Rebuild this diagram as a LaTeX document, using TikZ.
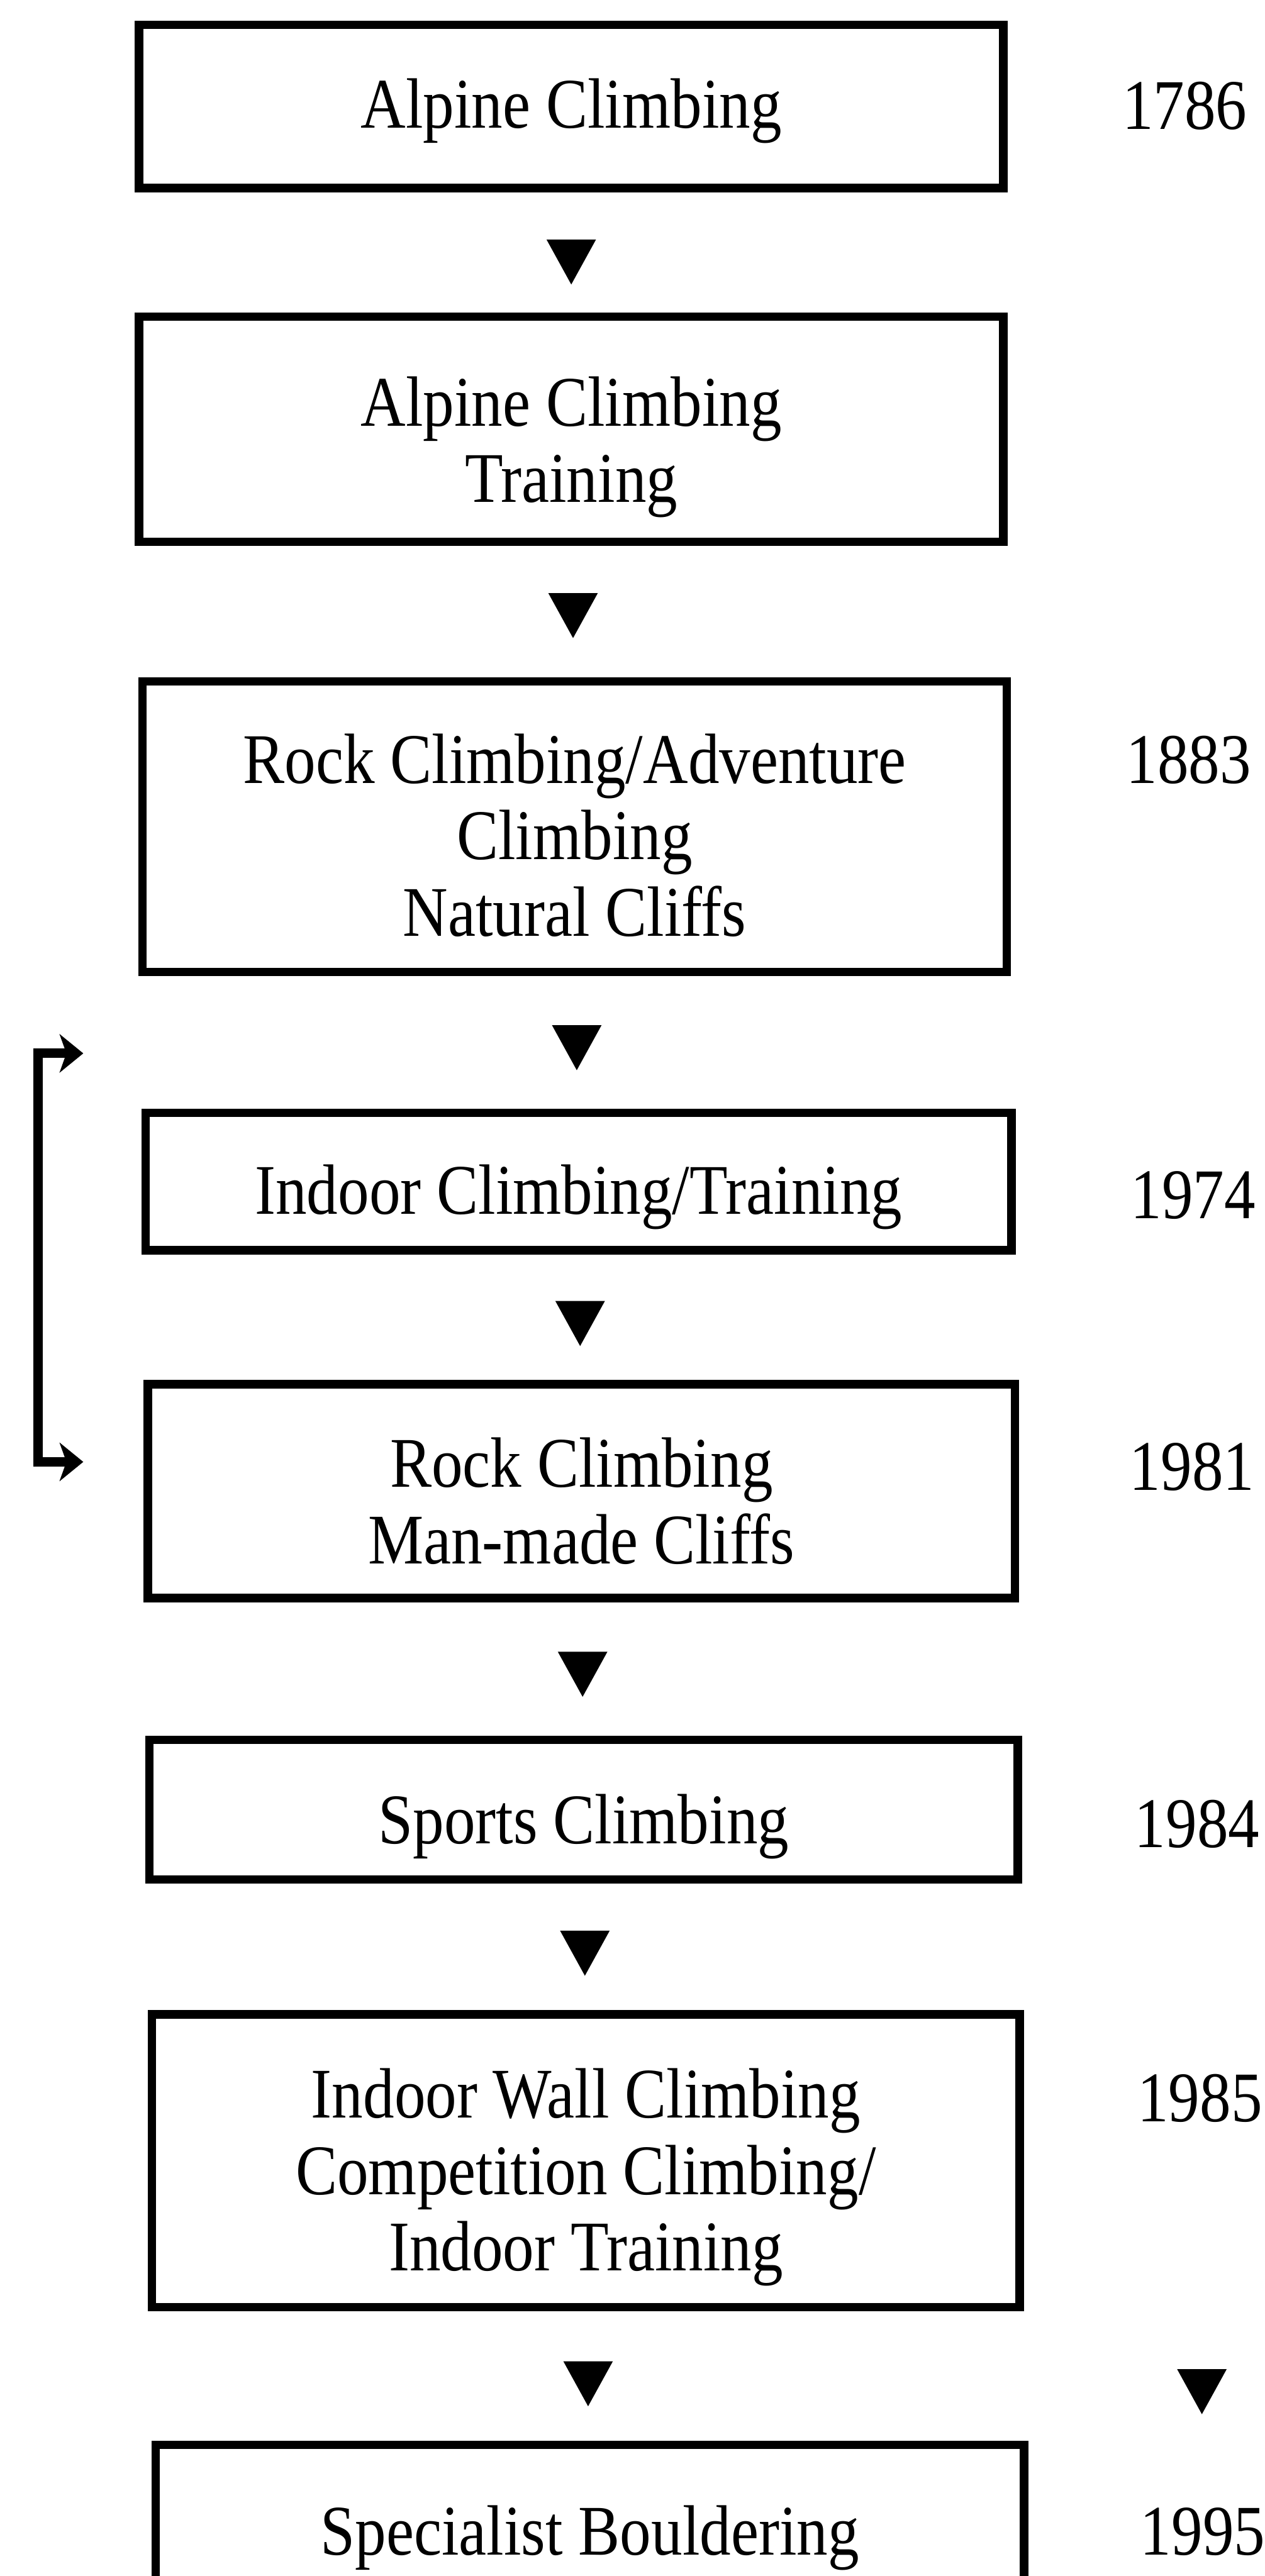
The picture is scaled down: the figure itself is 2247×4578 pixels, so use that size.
\documentclass[tikz,border=0pt]{standalone}
\usepackage{fontspec}
\setmainfont{Liberation Serif}[FakeStretch=0.875]
\usetikzlibrary{arrows.meta}
\setlength{\tabcolsep}{0pt}
\newcommand{\boxlines}[1]{\begin{tabular}[t]{c}#1\end{tabular}}
\begin{document}
\begin{tikzpicture}[x=0.01cm,y=-0.01cm,
  box/.style={draw, line width=4.3pt, inner sep=0pt},
  txt/.style={anchor=base, inner sep=0pt, font=\fontsize{36}{38.6}\selectfont},
  year/.style={anchor=base, inner sep=0pt, font=\fontsize{36}{38.6}\selectfont},
  link/.style={line width=4.8pt, line join=miter,
    -{Stealth[length=0.42cm,width=0.68cm,inset=0.12cm]}},
  downtri/.pic={\fill (-44,-40) -- (44,-40) -- (0,40) -- cycle;}
]
\path[use as bounding box, clip] (0,0) rectangle (2247,4578);

\node[box, minimum width=15.35cm, minimum height=2.90cm] (b1) at (1015,189) {};
\node[box, minimum width=15.35cm, minimum height=4.00cm] (b2) at (1015,763) {};
\node[box, minimum width=15.35cm, minimum height=5.16cm] (b3) at (1021,1469) {};
\node[box, minimum width=15.38cm, minimum height=2.44cm] (b4) at (1028,2100) {};
\node[box, minimum width=15.40cm, minimum height=3.80cm] (b5) at (1033,2650) {};
\node[box, minimum width=15.42cm, minimum height=2.48cm] (b6) at (1037,3216) {};
\node[box, minimum width=15.41cm, minimum height=5.20cm] (b7) at (1041,3840) {};
\node[box, minimum width=15.42cm, minimum height=2.40cm] (b8) at (1048,4465) {};

\node[txt] (t1) at (b1.center |- 0,228) {\boxlines{Alpine Climbing}};
\node[txt] (t2) at (b2.center |- 0,757) {\boxlines{Alpine Climbing\\Training}};
\node[txt] (t3) at (b3.center |- 0,1392) {\boxlines{Rock Climbing/Adventure\\Climbing\\Natural Cliffs}};
\node[txt] (t4) at (b4.center |- 0,2158) {\boxlines{Indoor Climbing/Training}};
\node[txt] (t5) at (b5.center |- 0,2643) {\boxlines{Rock Climbing\\Man-made Cliffs}};
\node[txt] (t6) at (b6.center |- 0,3276) {\boxlines{Sports Climbing}};
\node[txt] (t7) at (b7.center |- 0,3764) {\boxlines{Indoor Wall Climbing\\Competition Climbing/\\Indoor Training}};
\node[txt] (t8) at (b8.center |- 0,4540) {\boxlines{Specialist Bouldering}};

\node[year] (y1) at (2105,230) {1786};
\node[year] (y2) at (2112,1392) {1883};
\node[year] (y3) at (2120,2165) {1974};
\node[year] (y4) at (2118,2648) {1981};
\node[year] (y5) at (2127,3283) {1984};
\node[year] (y6) at (2132,3770) {1985};
\node[year] (y7) at (2137,4540) {1995};

\path (b1.south) -- (b2.north) coordinate[pos=0.58] (m1);
\path (b2.south) -- (b3.north) coordinate[pos=0.53] (m2);
\path (b3.south) -- (b4.north) coordinate[pos=0.54] (m3);
\path (b4.south) -- (b5.north) coordinate[pos=0.55] (m4);
\path (b5.south) -- (b6.north) coordinate[pos=0.54] (m5);
\path (b6.south) -- (b7.north) coordinate[pos=0.55] (m6);
\path (b7.south) -- (b8.north) coordinate[pos=0.56] (m7);
\path (y6.south) -- (y7.north) coordinate[pos=0.70] (m8);
\foreach \m in {m1,m2,m3,m4,m5,m6,m7,m8} { \pic at (\m) {downtri}; }

\coordinate (ta) at (148,1872);
\coordinate (bt) at (68,1872);
\coordinate (bb) at (68,2598);
\coordinate (tb) at (148,2598);
\draw[link] (bb) -- (bt) -- (ta);
\draw[link] (bt) -- (bb) -- (tb);
\end{tikzpicture}
\end{document}
